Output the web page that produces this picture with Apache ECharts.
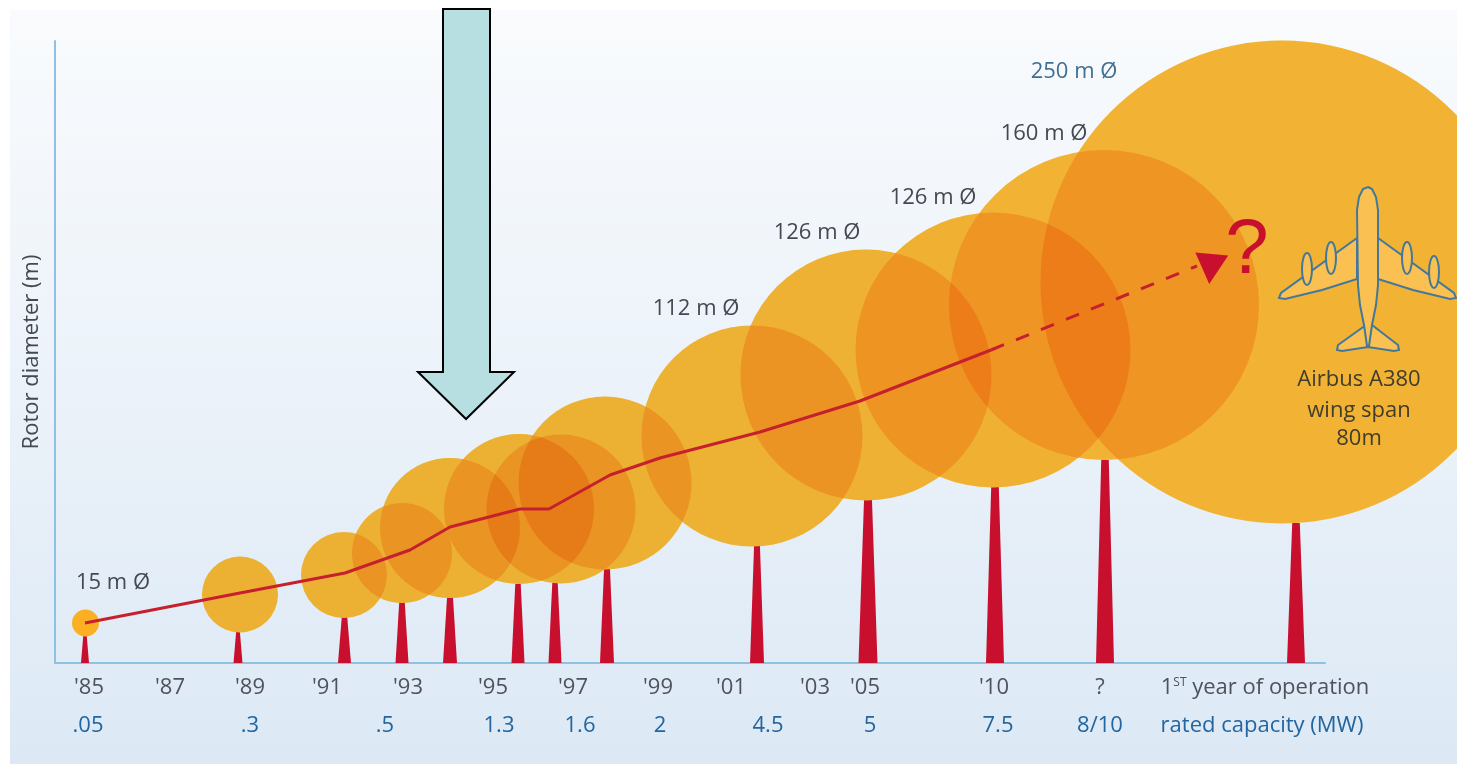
<!DOCTYPE html>
<html><head><meta charset="utf-8">
<style>html,body{margin:0;padding:0;background:#fff}#c{width:1457px;height:764px}</style>
<script src="https://cdn.jsdelivr.net/npm/echarts@6/dist/echarts.min.js"></script>
</head><body><div id="c"></div>
<script>
// Rotor circles: chart x, hub height above ground, drawn diameter
const hubX   = [85.5, 240, 344, 402, 450, 519, 561, 605, 752, 866, 993, 1104, 1282];
const hubY   = [40, 68.5, 88, 110, 135, 154, 154, 180, 227, 288, 313, 358, 381];
const rotorD = [27, 76, 86, 100, 140, 150, 149, 173, 221, 251, 275, 310, 483];
// Towers: chart x, top height, base width
const towerX = [85, 238, 344.5, 402, 450, 518, 555, 607, 757, 868, 995, 1105, 1296];
const towerTop = [28, 31, 46, 61, 66, 79, 80, 95, 117, 163, 177, 203, 140];
const towerBase = [8, 9, 13, 13, 14, 13, 13, 14, 14, 19, 18, 18, 18];
// Growth trend line
const trendX = [85, 240, 345, 410, 450, 520, 549, 610, 660, 760, 860, 991];
const trendY = [40, 70, 90, 113, 136, 154, 154, 188, 205, 231, 262, 313];
const forecastX = [991, 1197];
const forecastY = [313, 397];
// Axis labels
const yearPos = [89, 170, 250, 327, 408, 493, 573, 658, 731, 815, 865, 994, 1100, 1265];
const yearLabels = ["'85", "'87", "'89", "'91", "'93", "'95", "'97", "'99", "'01", "'03", "'05", "'10", "?", "1{sup|ST} year of operation"];
const capPos = [88, 250, 385, 499, 580, 660, 768, 870, 998, 1100, 1262];
const capLabels = [".05", ".3", ".5", "1.3", "1.6", "2", "4.5", "5", "7.5", "8/10", "rated capacity (MW)"];
// Diameter annotations
const noteX = [113, 696, 817, 933, 1044];
const noteY = [80, 354, 430, 465, 529];
const noteText = ["15 m Ø", "112 m Ø", "126 m Ø", "126 m Ø", "160 m Ø"];
const topNoteX = [1074];
const topNoteY = [591];
const topNoteText = ["250 m Ø"];
const planeNoteX = [1359, 1359, 1359];
const planeNoteY = [283, 252, 224];
const planeNoteText = ["Airbus A380", "wing span", "80m"];

const FONT = '"Open Sans", sans-serif';
const zip = (...a) => a[0].map((_, i) => a.map(s => s[i]));
const circles = zip(hubX, hubY, rotorD);

const plane = [
  [[1357, 238], [1281, 293], [1279, 298], [1285, 299], [1322, 290], [1357, 279]],
  [[1378, 238], [1454, 293], [1456, 298], [1450, 299], [1413, 290], [1378, 279]],
  [[1366, 325], [1338, 345], [1337, 350], [1342, 351], [1368, 347], [1394, 351], [1399, 350], [1398, 345], [1372, 325]],
  [[1368, 187], [1372, 189], [1376, 197], [1378, 210], [1378, 285], [1376, 305], [1372, 325], [1369, 346], [1367, 346],
   [1364, 325], [1360, 305], [1358, 285], [1357, 210], [1359, 197], [1363, 189]]
];
const engines = [[1307, 269], [1331, 258], [1407, 258], [1434, 272]];
const planeStyle = {fill: '#FBC052', stroke: '#44789A', lineWidth: 2};
const baseColors = ['#FBB024', '#EFD34A', '#EFD34A', '#EFD34A', '#EFD34A', '#EFD34A', '#EFD34A', '#EFD34A', '#F0D34A', '#F2D34A', '#F3D34A', '#F5D44A', '#F5D44A'];

const noteSeries = (name, data, color, z) => ({
  type: 'scatter', name, z, silent: true, clip: false, symbolSize: 0, data,
  itemStyle: {opacity: 1},
  label: {show: true, position: 'inside', formatter: p => p.value[2], fontFamily: FONT, fontSize: 22, color, opacity: 1}
});

const chart = echarts.init(document.getElementById('c'));
chart.setOption({
  animation: false,
  backgroundColor: '#fff',
  grid: {left: 55, top: 41, width: 1270, height: 622},
  xAxis: [
    {type: 'value', min: 55, max: 1325, splitLine: {show: false},
     axisLine: {show: true, onZero: false, lineStyle: {color: '#8FC1E3', width: 2}},
     axisTick: {show: false},
     axisLabel: {customValues: yearPos, margin: 14, fontFamily: FONT, fontSize: 22, fontWeight: 500, color: '#4E525C', hideOverlap: false,
       formatter: v => yearLabels[yearPos.indexOf(v)],
       rich: {sup: {fontSize: 12, fontFamily: FONT, color: '#4E525C', verticalAlign: 'top', padding: [0, 0, 8, 0]}}}},
    {type: 'value', min: 55, max: 1325, position: 'bottom', offset: 38, splitLine: {show: false},
     axisLine: {show: false}, axisTick: {show: false},
     axisLabel: {customValues: capPos, margin: 14, fontFamily: FONT, fontSize: 22, fontWeight: 500, color: '#23659E', hideOverlap: false,
       formatter: v => capLabels[capPos.indexOf(v)]}}
  ],
  yAxis: {type: 'value', min: 0, max: 622, splitLine: {show: false},
    axisLine: {show: true, onZero: false, lineStyle: {color: '#8FC1E3', width: 2}},
    axisTick: {show: false}, axisLabel: {show: false},
    name: 'Rotor diameter (m)', nameLocation: 'middle', nameRotate: 90, nameGap: 12,
    nameTextStyle: {fontFamily: FONT, fontSize: 22, fontWeight: 500, color: '#454852'}},
  graphic: [
    {type: 'rect', z: -10, silent: true, shape: {x: 10, y: 10, width: 1447, height: 754},
     style: {fill: new echarts.graphic.LinearGradient(0, 0, 0, 1, [
       {offset: 0, color: '#F9FBFD'}, {offset: .55, color: '#EAF1F9'}, {offset: 1, color: '#DCE9F5'}])}},
    {type: 'polygon', z: 100, silent: true,
     shape: {points: [[443, 9], [490, 9], [490, 372], [514, 372], [466, 419], [418, 372], [443, 372]]},
     style: {fill: '#B7DFE2', stroke: '#000', lineWidth: 2}},
    ...plane.map(p => ({type: 'polygon', z: 20, silent: true, shape: {points: p}, style: planeStyle})),
    ...engines.map(e => ({type: 'ellipse', z: 21, silent: true, shape: {cx: e[0], cy: e[1], rx: 5, ry: 16}, style: planeStyle}))
  ],
  series: [
    {type: 'custom', name: 'Towers', z: 1, clip: false, silent: true,
     data: zip(towerX, towerTop, towerBase),
     encode: {x: 0, y: 1},
     renderItem: (p, api) => {
       const x = api.value(0), top = api.coord([x, api.value(1)])[1], g = api.coord([x, 0]);
       const w = api.value(2) / 2, t = w * .42;
       return {type: 'polygon', shape: {points: [[g[0] - w, g[1]], [g[0] + w, g[1]], [g[0] + t, top], [g[0] - t, top]]},
               style: {fill: '#C8102E'}};
     }},
    {type: 'scatter', name: 'Rotor base', z: 2, clip: false, silent: true, symbol: 'circle',
     data: circles, encode: {x: 0, y: 1}, symbolSize: v => v[2],
     itemStyle: {opacity: 1, color: p => baseColors[p.dataIndex]}},
    {type: 'scatter', name: 'Rotor overlay', z: 3, clip: false, silent: true, symbol: 'circle', blendMode: 'multiply',
     data: circles.slice(1), encode: {x: 0, y: 1}, symbolSize: v => v[2],
     itemStyle: {opacity: 1, color: 'rgb(252,214,173)'}},
    {type: 'line', name: 'Trend', z: 4, silent: true, clip: false, symbol: 'none',
     data: zip(trendX, trendY), lineStyle: {color: '#C6202F', width: 3}},
    {type: 'line', name: 'Forecast', z: 4, silent: true, clip: false, symbol: 'none',
     data: zip(forecastX, forecastY), lineStyle: {color: '#C6202F', width: 3, type: [14, 13]}},
    {type: 'scatter', name: 'Arrow head', z: 5, silent: true, clip: false, symbol: 'triangle',
     symbolRotate: 175, symbolSize: [33, 30],
     data: [[1210.5, 394]], itemStyle: {color: '#C8102E', opacity: 1}},
    {type: 'scatter', name: 'Question', z: 5, silent: true, clip: false, symbolSize: 0,
     data: [[1247, 412]], itemStyle: {opacity: 1},
     label: {show: true, position: 'inside', formatter: '?', fontFamily: '"Liberation Sans"', fontSize: 78, color: '#C8102E', opacity: 1}},
    noteSeries('Diameters', zip(noteX, noteY, noteText), '#454852', 6),
    noteSeries('Top diameter', zip(topNoteX, topNoteY, topNoteText), '#3F6F93', 6),
    noteSeries('Plane note', zip(planeNoteX, planeNoteY, planeNoteText), '#3F3D2C', 21)
  ]
});
</script></body></html>
